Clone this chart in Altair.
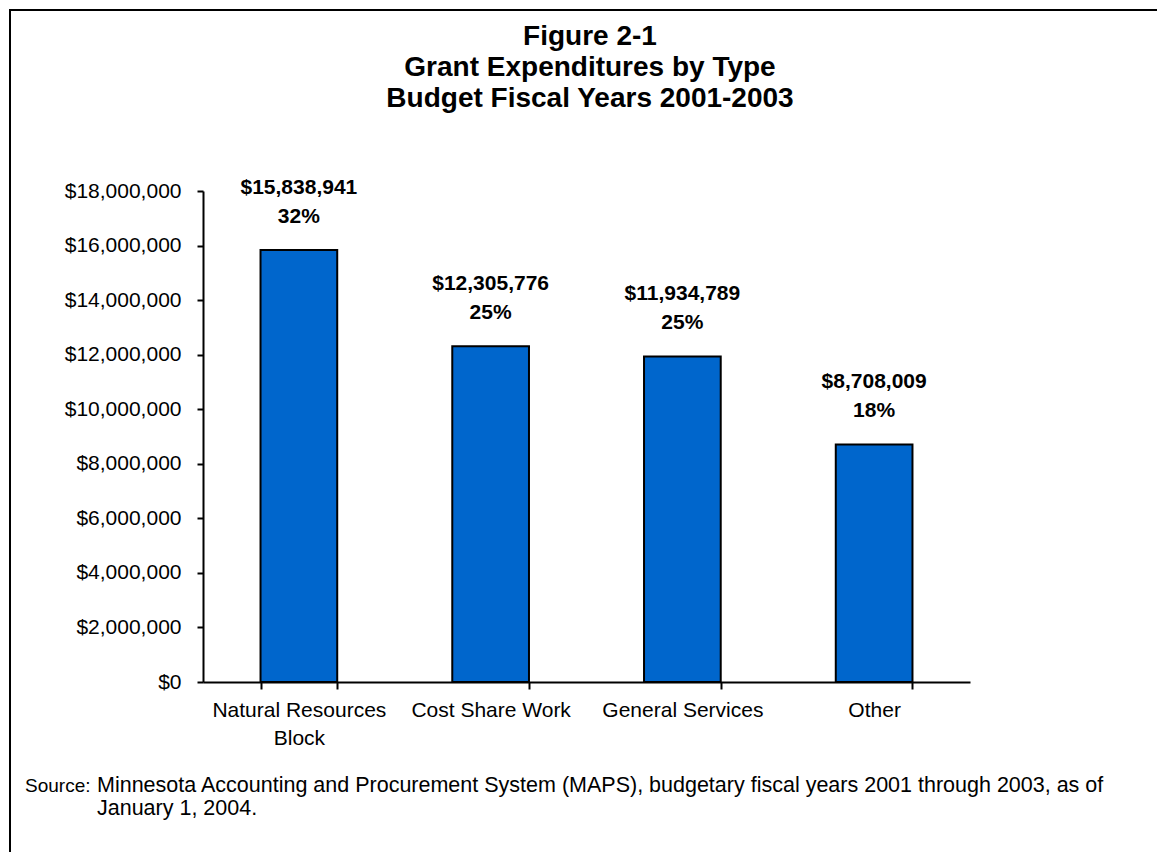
import altair as alt
import pandas as pd

categories = ["Natural Resources Block", "Cost Share Work", "General Services", "Other"]
amounts = [15838941, 12305776, 11934789, 8708009]
shares = ["32%", "25%", "25%", "18%"]
y_ticks = [0, 2000000, 4000000, 6000000, 8000000, 10000000, 12000000, 14000000, 16000000, 18000000]
title_lines = ["Figure 2-1", "Grant Expenditures by Type", "Budget Fiscal Years 2001-2003"]
source_label = "Source:"
source_lines = ["Minnesota Accounting and Procurement System (MAPS), budgetary fiscal years 2001 through 2003, as of",
                "January 1, 2004."]

FONT = "Liberation Sans"

df = pd.DataFrame({"category": categories, "amount": amounts, "share": shares})
one = pd.DataFrame({"k": [0]})

x_enc = alt.X("category:N", sort=categories,
              scale=alt.Scale(paddingInner=0.6, paddingOuter=0.3),
              axis=alt.Axis(title=None, labelAngle=0, tickBand="extent",
                            labelExpr="datum.label == 'Natural Resources Block' ? ['Natural Resources', 'Block'] : datum.label",
                            labelFont=FONT, labelFontSize=21, labelColor="black",
                            labelLineHeight=28, labelPadding=10,
                            domainColor="black", domainWidth=2,
                            tickColor="black", tickWidth=2, tickSize=7))
y_enc = alt.Y("amount:Q", scale=alt.Scale(domain=[0, 18000000], nice=False),
              axis=alt.Axis(title=None, values=y_ticks, format="$,.0f", grid=False,
                            labelFont=FONT, labelFontSize=21, labelColor="black",
                            labelPadding=16,
                            domainColor="black", domainWidth=2,
                            tickColor="black", tickWidth=2, tickSize=6))

border = alt.Chart(one).mark_rect(fill="white", fillOpacity=0, stroke="black", strokeWidth=2).encode(
    x=alt.value(-193), x2=alt.value(990), y=alt.value(-181), y2=alt.value(700))

bars = alt.Chart(df).mark_bar(color="#0066CC", stroke="black", strokeWidth=2).encode(
    x=x_enc, y=y_enc)

amt_text = alt.Chart(df).mark_text(font=FONT, fontSize=21, fontWeight="bold", color="black",
                                   baseline="alphabetic", dy=-56).encode(
    x=alt.X("category:N", sort=categories), y="amount:Q",
    text=alt.Text("amount:Q", format="$,.0f"))

pct_text = alt.Chart(df).mark_text(font=FONT, fontSize=21, fontWeight="bold", color="black",
                                   baseline="alphabetic", dy=-27).encode(
    x=alt.X("category:N", sort=categories), y="amount:Q",
    text="share:N")

title = alt.Chart(one).mark_text(font=FONT, fontSize=28, fontWeight="bold", color="black",
                                 baseline="alphabetic", align="center", lineHeight=31).encode(
    x=alt.value(387), y=alt.value(-146), text=alt.value(title_lines))

src_lbl = alt.Chart(one).mark_text(font=FONT, fontSize=19, color="black",
                                   baseline="alphabetic", align="left").encode(
    x=alt.value(-178), y=alt.value(601), text=alt.value(source_label))

src_txt = alt.Chart(one).mark_text(font=FONT, fontSize=21.5, color="black",
                                   baseline="alphabetic", align="left", lineHeight=23).encode(
    x=alt.value(-106), y=alt.value(601), text=alt.value(source_lines))

chart = alt.layer(border, bars, amt_text, pct_text, title, src_lbl, src_txt).properties(
    width=767, height=491,
    autosize=alt.AutoSizeParams(type="none"),
    padding={"left": 195, "top": 183, "right": 187, "bottom": 170},
).configure(background="white").configure_view(stroke="transparent", strokeWidth=0)

chart.save("out.html", embed_options={"renderer": "svg", "actions": False})
